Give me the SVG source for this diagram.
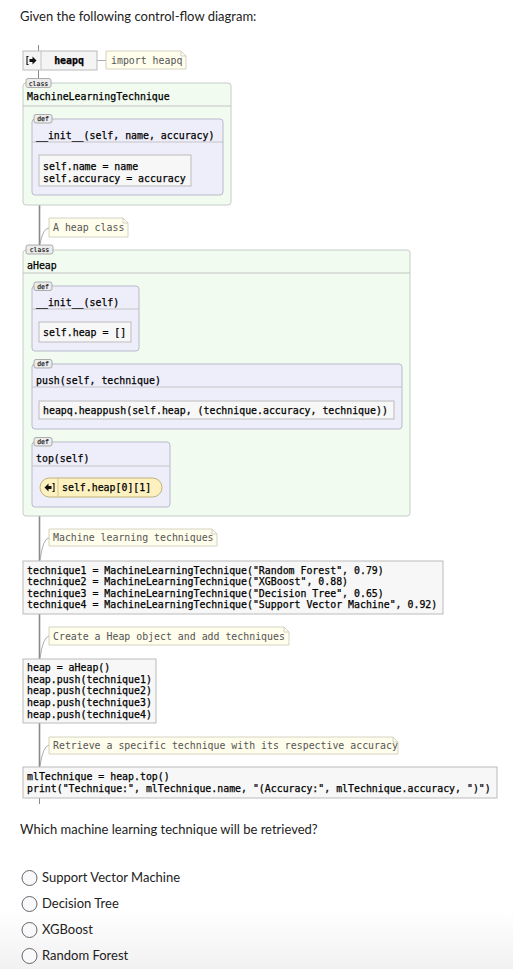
<svg xmlns="http://www.w3.org/2000/svg" width="513" height="969" viewBox="0 0 513 969">
<defs>
<linearGradient id="bg" x1="0" y1="0" x2="0" y2="1">
<stop offset="0" stop-color="#ffffff"/>
<stop offset="1" stop-color="#f1f1f1"/>
</linearGradient>
<style>
.ui{font-family:Lato,"Noto Sans",sans-serif;font-size:13px;fill:#222}
.code{font-family:"DejaVu Sans Mono",monospace;font-size:9.9px;fill:#000;stroke:#000;stroke-width:0.25}
.cmt{font-family:"DejaVu Sans Mono",monospace;font-size:9.9px;fill:#555}
.tagt{font-family:"DejaVu Sans Mono",monospace;font-size:6.5px;fill:#111;text-anchor:middle;stroke:#111;stroke-width:0.15}
.tag{fill:#ececec;stroke:#999;stroke-width:0.8}
.cls{fill:#f1fbf0;stroke:#c6cec6;stroke-width:1}
.def{fill:#eeeefa;stroke:#b9bacb;stroke-width:1}
.stmt{fill:#f7f7f7;stroke:#bbbbbb;stroke-width:1}
.note{fill:#fffdeb;stroke:#c9c9b8;stroke-width:0.8}
.sep{stroke:#c4c4c4;stroke-width:1}
.tick{stroke:#8a8a8a;stroke-width:1;fill:none}
.main{stroke:#8a8a8a;stroke-width:1.6;fill:none}
.cc{stroke:#999;stroke-width:0.8;fill:none}
.radio{fill:#f9f9fc;stroke:#666;stroke-width:1}
</style>
</defs>
<rect x="0" y="0" width="513" height="969" fill="#ffffff"/>
<rect x="0" y="910" width="513" height="59" fill="url(#bg)"/>

<text class="ui" x="20" y="21">Given the following control-flow diagram:</text>

<g id="connectors">
<line class="tick" x1="38.5" y1="45" x2="38.5" y2="51"/>
<line class="tick" x1="38.5" y1="70" x2="38.5" y2="78"/>
<line class="cc" x1="97" y1="60.5" x2="106" y2="60.5"/>
<line class="tick" x1="55.5" y1="149" x2="55.5" y2="155"/>
<line class="tick" x1="55.5" y1="186" x2="55.5" y2="192"/>
<line class="tick" x1="47.5" y1="195" x2="47.5" y2="201"/>
<line class="main" x1="39.5" y1="205" x2="39.5" y2="245"/>
<path class="cc" d="M40 244 Q43 228 49 228"/>
<line class="tick" x1="55.5" y1="316" x2="55.5" y2="322"/>
<line class="tick" x1="55.5" y1="342" x2="55.5" y2="347"/>
<line class="tick" x1="47.5" y1="351" x2="47.5" y2="360"/>
<line class="tick" x1="55.5" y1="393" x2="55.5" y2="401"/>
<line class="tick" x1="55.5" y1="419" x2="55.5" y2="424"/>
<line class="tick" x1="47.5" y1="429" x2="47.5" y2="438"/>
<line class="tick" x1="55.5" y1="472" x2="55.5" y2="478"/>
<line class="tick" x1="55.5" y1="497" x2="55.5" y2="502"/>
<line class="tick" x1="47.5" y1="507" x2="47.5" y2="512"/>
<line class="main" x1="39.5" y1="516" x2="39.5" y2="561"/>
<path class="cc" d="M40 560 Q43 538 49 538"/>
<line class="main" x1="39.5" y1="614" x2="39.5" y2="659"/>
<path class="cc" d="M40 658 Q43 637 49 636"/>
<line class="main" x1="39.5" y1="723" x2="39.5" y2="767"/>
<path class="cc" d="M40 766 Q43 746 49 745"/>
<line class="tick" x1="39.5" y1="798" x2="39.5" y2="804"/>
</g>

<g id="node-heapq">
<rect x="23" y="51" width="74" height="19" fill="#f4f4f4" stroke="#bbbbbb"/>
<line class="sep" x1="41" y1="51" x2="41" y2="70"/>
<path d="M28.5 56.5 h-1.5 v8 h1.5" fill="none" stroke="#111" stroke-width="1.1"/>
<path d="M29.5 59 h3 v-2.5 l4 4 l-4 4 v-2.5 h-3 z" fill="#111"/>
<text class="code" x="69" y="64" text-anchor="middle" font-weight="bold">heapq</text>
</g>

<g id="note-import">
<path class="note" d="M106 51 h75 l5 5 v13 h-80 z"/>
<path d="M181 51 v5 h5" fill="none" stroke="#c9c9b8" stroke-width="0.8"/>
<text class="cmt" x="111" y="64">import heapq</text>
</g>

<g id="class-MachineLearningTechnique">
<rect class="cls" x="23" y="83" width="208" height="122" rx="3"/>
<line class="sep" x1="23" y1="106" x2="231" y2="106"/>
<rect class="tag" x="26" y="78.5" width="25" height="9" rx="2"/>
<text class="tagt" x="38.5" y="85.5">class</text>
<text class="code" x="27" y="100">MachineLearningTechnique</text>
</g>

<g id="def-init-mlt">
<rect class="def" x="32" y="119" width="191" height="76" rx="3"/>
<line class="sep" x1="32" y1="142" x2="223" y2="142"/>
<rect class="tag" x="34" y="114.5" width="18" height="8.5" rx="2"/>
<text class="tagt" x="43" y="121">def</text>
<text class="code" x="36" y="139">__init__(self, name, accuracy)</text>
</g>

<g id="stmt-init-mlt">
<rect class="stmt" x="39" y="155" width="152" height="31"/>
<text class="code" x="43" y="170">self.name = name</text>
<text class="code" x="43" y="182">self.accuracy = accuracy</text>
</g>

<g id="note-heap-class">
<path class="note" d="M49 218 h74 l5 5 v14 h-79 z"/>
<path d="M123 218 v5 h5" fill="none" stroke="#c9c9b8" stroke-width="0.8"/>
<text class="cmt" x="53" y="231">A heap class</text>
</g>

<g id="class-aHeap">
<rect class="cls" x="23" y="250" width="387" height="266" rx="3"/>
<line class="sep" x1="23" y1="273" x2="410" y2="273"/>
<rect class="tag" x="26" y="245" width="27" height="9" rx="2"/>
<text class="tagt" x="39.5" y="252">class</text>
<text class="code" x="27" y="269">aHeap</text>
</g>

<g id="def-init-heap">
<rect class="def" x="32" y="286" width="107" height="65" rx="3"/>
<line class="sep" x1="32" y1="309" x2="139" y2="309"/>
<rect class="tag" x="34" y="282" width="18" height="8.5" rx="2"/>
<text class="tagt" x="43" y="288.5">def</text>
<text class="code" x="36" y="306">__init__(self)</text>
</g>

<g id="stmt-init-heap">
<rect class="stmt" x="39" y="322" width="92" height="20"/>
<text class="code" x="43" y="335.5">self.heap = []</text>
</g>

<g id="def-push">
<rect class="def" x="32" y="364" width="370" height="65" rx="3"/>
<line class="sep" x1="32" y1="387" x2="402" y2="387"/>
<rect class="tag" x="34" y="359.5" width="18" height="8.5" rx="2"/>
<text class="tagt" x="43" y="366">def</text>
<text class="code" x="36" y="383.5">push(self, technique)</text>
</g>

<g id="stmt-push">
<rect class="stmt" x="39" y="401" width="355" height="18"/>
<text class="code" x="43" y="413.5">heapq.heappush(self.heap, (technique.accuracy, technique))</text>
</g>

<g id="def-top">
<rect class="def" x="32" y="442" width="138" height="65" rx="3"/>
<line class="sep" x1="32" y1="466" x2="170" y2="466"/>
<rect class="tag" x="34" y="437.5" width="18" height="8.5" rx="2"/>
<text class="tagt" x="43" y="444">def</text>
<text class="code" x="36" y="461.5">top(self)</text>
</g>

<g id="return-top">
<rect x="40" y="478" width="122" height="19" rx="9.5" fill="#fdf1c0" stroke="#bfb27a"/>
<line x1="58" y1="478" x2="58" y2="497" stroke="#d2c690" stroke-width="1"/>
<path d="M52.5 483.5 h1.5 v8 h-1.5" fill="none" stroke="#111" stroke-width="1.1"/>
<path d="M51.5 486 h-3 v-2.5 l-4 4 l4 4 v-2.5 h3 z" fill="#111"/>
<text class="code" x="62" y="491">self.heap[0][1]</text>
</g>

<g id="note-ml">
<path class="note" d="M49 529 h163 l5 5 v12 h-168 z"/>
<path d="M212 529 v5 h5" fill="none" stroke="#c9c9b8" stroke-width="0.8"/>
<text class="cmt" x="53" y="541">Machine learning techniques</text>
</g>

<g id="stmt-techniques">
<rect class="stmt" x="23" y="561" width="420" height="53"/>
<text class="code" x="27" y="573.5">technique1 = MachineLearningTechnique("Random Forest", 0.79)</text>
<text class="code" x="27" y="585">technique2 = MachineLearningTechnique("XGBoost", 0.88)</text>
<text class="code" x="27" y="596.5">technique3 = MachineLearningTechnique("Decision Tree", 0.65)</text>
<text class="code" x="27" y="608">technique4 = MachineLearningTechnique("Support Vector Machine", 0.92)</text>
</g>

<g id="note-create">
<path class="note" d="M49 627 h235 l5 5 v13 h-240 z"/>
<path d="M284 627 v5 h5" fill="none" stroke="#c9c9b8" stroke-width="0.8"/>
<text class="cmt" x="53" y="640">Create a Heap object and add techniques</text>
</g>

<g id="stmt-heap">
<rect class="stmt" x="23" y="659" width="133" height="64"/>
<text class="code" x="27" y="671">heap = aHeap()</text>
<text class="code" x="27" y="682.7">heap.push(technique1)</text>
<text class="code" x="27" y="694.4">heap.push(technique2)</text>
<text class="code" x="27" y="706">heap.push(technique3)</text>
<text class="code" x="27" y="717.7">heap.push(technique4)</text>
</g>

<g id="note-retrieve">
<path class="note" d="M49 737 h344 l5 5 v12 h-349 z"/>
<path d="M393 737 v5 h5" fill="none" stroke="#c9c9b8" stroke-width="0.8"/>
<text class="cmt" x="53" y="749">Retrieve a specific technique with its respective accuracy</text>
</g>

<g id="stmt-print">
<rect class="stmt" x="23" y="767" width="474" height="31"/>
<text class="code" x="27" y="780">mlTechnique = heap.top()</text>
<text class="code" x="27" y="792">print("Technique:", mlTechnique.name, "(Accuracy:", mlTechnique.accuracy, ")")</text>
</g>

<text class="ui" x="20" y="834">Which machine learning technique will be retrieved?</text>

<g id="options">
<circle class="radio" cx="29.5" cy="878" r="7.5"/>
<text class="ui" x="42" y="882">Support Vector Machine</text>
<circle class="radio" cx="29.5" cy="904" r="7.5"/>
<text class="ui" x="42" y="908">Decision Tree</text>
<circle class="radio" cx="29.5" cy="930" r="7.5"/>
<text class="ui" x="42" y="934">XGBoost</text>
<circle class="radio" cx="29.5" cy="956" r="7.5"/>
<text class="ui" x="42" y="960">Random Forest</text>
</g>
</svg>
